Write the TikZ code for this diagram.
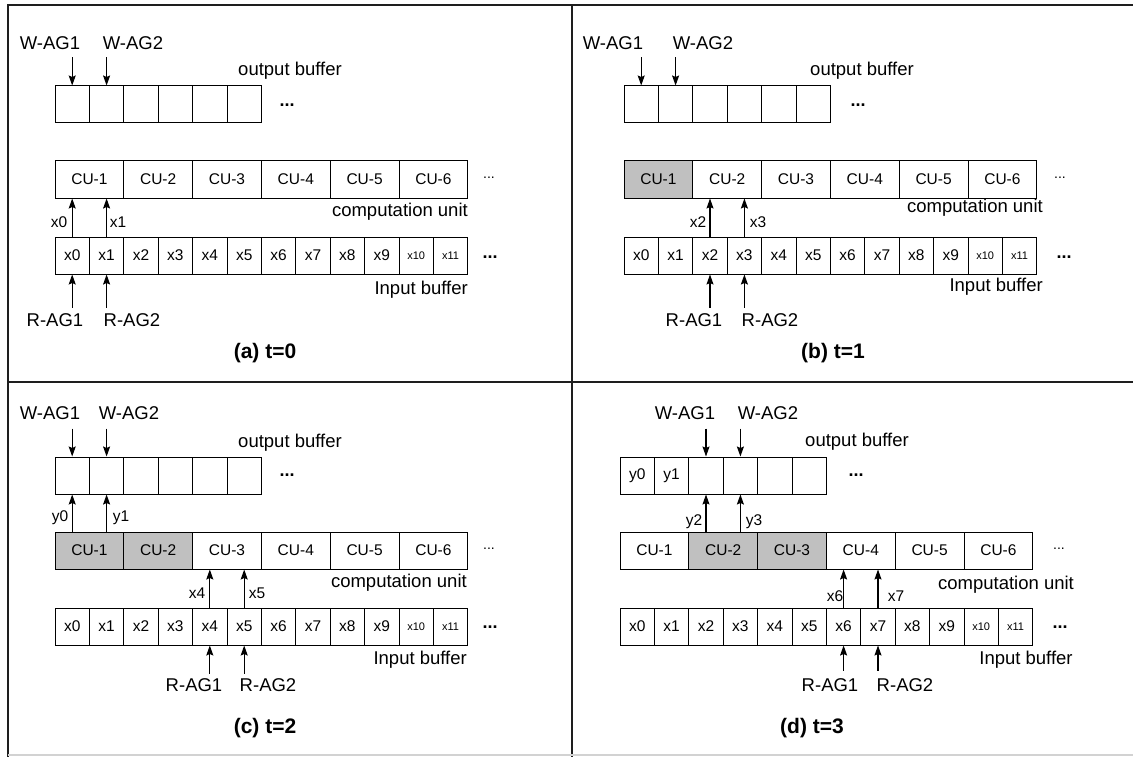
\documentclass[tikz,border=0pt]{standalone}
\usepackage{fontspec}
\setmainfont{Liberation Sans}
\usetikzlibrary{arrows.meta,backgrounds}
\definecolor{shadecol}{RGB}{192,192,192}
\definecolor{framecol}{RGB}{30,30,30}
\definecolor{lightline}{RGB}{210,210,210}
\tikzset{
  cell/.style={draw, line width=1pt, minimum width=34.4pt, minimum height=37pt, inner sep=0pt, font=\fontsize{15.5}{18}\selectfont},
  cucell/.style={cell, minimum width=68.8pt},
  tinytxt/.style={font=\fontsize{11}{13}\selectfont},
  lbl/.style={font=\fontsize{18.5}{21}\selectfont, inner sep=0pt},
  small/.style={font=\fontsize{15.5}{18}\selectfont, inner sep=0pt},
  ttl/.style={font=\fontsize{21}{25}\selectfont\bfseries, inner sep=0pt},
  arr/.style={line width=1.1pt, -{Stealth[length=10pt,width=7pt,inset=1.5pt]}},
  dotsb/.style={font=\fontsize{18}{21}\selectfont\bfseries, inner sep=0pt},
  cudots/.style={font=\fontsize{14}{16}\selectfont, inner sep=0pt},
  framel/.style={draw=framecol, line width=2pt},
}
\newcommand{\bufrows}[3]{%
  \foreach \i in {1,...,6}{\node[cell] (#1-o\i) at ({#2+(\i-0.5)*34.4},{#3+18.5}) {};}
  \foreach \i in {1,...,6}{\node[cucell] (#1-c\i) at ({#2+(\i-0.5)*68.8},{#3+93.5}) {CU-\i};}
  \foreach \i in {0,...,9}{\node[cell] (#1-i\i) at ({#2+(\i+0.5)*34.4},{#3+169.5}) {x\i};}
  \foreach \i in {10,11}{\node[cell,tinytxt] (#1-i\i) at ({#2+(\i+0.5)*34.4},{#3+169.5}) {x\i};}
}
\begin{document}
\begin{tikzpicture}[x=1pt,y=-1pt]
\useasboundingbox (0,0) rectangle (1133,757);
% frame
\draw[framel] (8,757) -- (8,5) -- (1133,5);
\draw[framel] (572,5) -- (572,757);
\draw[framel] (8,382) -- (1133,382);
\draw[draw=lightline, line width=1.5pt] (8,755) -- (1133,755);

% ---------- panel (a) ----------
\bufrows{a}{55}{86}
\node[lbl] (a-w1) at (50,43) {W-AG1};
\node[lbl] (a-w2) at (133,43) {W-AG2};
\draw[arr] ([yshift=28pt]a-o1.north) -- (a-o1.north);
\draw[arr] ([yshift=28pt]a-o2.north) -- (a-o2.north);
\node[lbl] (a-ob) at (290,71) {output buffer};
\node[dotsb] (a-od) at (287,105) {...};
\node[cudots] (a-cd) at (489,178) {...};
\node[dotsb] (a-id) at (490,257) {...};
\draw[arr] (a-i0.north) -- (a-i0.north |- a-c1.south);
\draw[arr] (a-i1.north) -- (a-i1.north |- a-c1.south);
\node[small] (a-l0) at (59,222) {x0};
\node[small] (a-l1) at (118,222) {x1};
\node[lbl, anchor=east] (a-cu) at (468,212) {computation unit};
\node[lbl, anchor=east] (a-ib) at (468,290) {Input buffer};
\draw[arr] ([yshift=-33pt]a-i0.south) -- (a-i0.south);
\draw[arr] ([yshift=-33pt]a-i1.south) -- (a-i1.south);
\node[lbl] (a-r1) at (55,320) {R-AG1};
\node[lbl] (a-r2) at (132,320) {R-AG2};
\node[ttl] (a-t) at (265,353) {(a) t=0};

% ---------- panel (b) ----------
\bufrows{b}{624}{86}
\begin{scope}[on background layer]
\fill[shadecol] (b-c1.south west) rectangle (b-c1.north east);
\end{scope}
\node[lbl] (b-w1) at (613,43) {W-AG1};
\node[lbl] (b-w2) at (703,43) {W-AG2};
\draw[arr] ([yshift=28pt]b-o1.north) -- (b-o1.north);
\draw[arr] ([yshift=28pt]b-o2.north) -- (b-o2.north);
\node[lbl] (b-ob) at (862,71) {output buffer};
\node[dotsb] (b-od) at (858,105) {...};
\node[cudots] (b-cd) at (1060,178) {...};
\node[dotsb] (b-id) at (1064,257) {...};
\draw[arr] (b-i2.north) -- (b-i2.north |- b-c1.south);
\draw[arr] (b-i3.north) -- (b-i3.north |- b-c1.south);
\node[small] (b-l0) at (698,222) {x2};
\node[small] (b-l1) at (758,222) {x3};
\node[lbl, anchor=east] (b-cu) at (1043,208) {computation unit};
\node[lbl, anchor=east] (b-ib) at (1043,287) {Input buffer};
\draw[arr] ([yshift=-33pt]b-i2.south) -- (b-i2.south);
\draw[arr] ([yshift=-33pt]b-i3.south) -- (b-i3.south);
\node[lbl] (b-r1) at (694,320) {R-AG1};
\node[lbl] (b-r2) at (770,320) {R-AG2};
\node[ttl] (b-t) at (833,353) {(b) t=1};

% ---------- panel (c) ----------
\bufrows{c}{55}{457}
\begin{scope}[on background layer]
\fill[shadecol] (c-c1.south west) rectangle (c-c2.north east);
\end{scope}
\node[lbl] (c-w1) at (50,413) {W-AG1};
\node[lbl] (c-w2) at (129,413) {W-AG2};
\draw[arr] ([yshift=28pt]c-o1.north) -- (c-o1.north);
\draw[arr] ([yshift=28pt]c-o2.north) -- (c-o2.north);
\node[lbl] (c-ob) at (290,443) {output buffer};
\node[dotsb] (c-od) at (287,475) {...};
\node[cudots] (c-cd) at (489,549) {...};
\node[dotsb] (c-id) at (490,627) {...};
\draw[arr] (c-o1.south |- c-c1.north) -- (c-o1.south);
\draw[arr] (c-o2.south |- c-c1.north) -- (c-o2.south);
\node[small] (c-y0) at (60,518) {y0};
\node[small] (c-y1) at (121,518) {y1};
\draw[arr] (c-i4.north) -- (c-i4.north |- c-c1.south);
\draw[arr] (c-i5.north) -- (c-i5.north |- c-c1.south);
\node[small] (c-l0) at (197,593) {x4};
\node[small] (c-l1) at (257,593) {x5};
\node[lbl, anchor=east] (c-cu) at (467,583) {computation unit};
\node[lbl, anchor=east] (c-ib) at (467,660) {Input buffer};
\draw[arr] ([yshift=-28pt]c-i4.south) -- (c-i4.south);
\draw[arr] ([yshift=-28pt]c-i5.south) -- (c-i5.south);
\node[lbl] (c-r1) at (194,685) {R-AG1};
\node[lbl] (c-r2) at (268,685) {R-AG2};
\node[ttl] (c-t) at (265,728) {(c) t=2};

% ---------- panel (d) ----------
\bufrows{d}{620}{457}
\begin{scope}[on background layer]
\fill[shadecol] (d-c2.south west) rectangle (d-c3.north east);
\end{scope}
\node[small] (d-v0) at (d-o1) {y0};
\node[small] (d-v1) at (d-o2) {y1};
\node[lbl] (d-w1) at (685,413) {W-AG1};
\node[lbl] (d-w2) at (768,413) {W-AG2};
\draw[arr] ([yshift=28pt]d-o3.north) -- (d-o3.north);
\draw[arr] ([yshift=28pt]d-o4.north) -- (d-o4.north);
\node[lbl] (d-ob) at (857,442) {output buffer};
\node[dotsb] (d-od) at (856,475) {...};
\node[cudots] (d-cd) at (1059,549) {...};
\node[dotsb] (d-id) at (1060,627) {...};
\draw[arr] (d-o3.south |- d-c1.north) -- (d-o3.south);
\draw[arr] (d-o4.south |- d-c1.north) -- (d-o4.south);
\node[small] (d-y2) at (694,522) {y2};
\node[small] (d-y3) at (754,522) {y3};
\draw[arr] (d-i6.north) -- (d-i6.north |- d-c1.south);
\draw[arr] (d-i7.north) -- (d-i7.north |- d-c1.south);
\node[small] (d-l0) at (835,596) {x6};
\node[small] (d-l1) at (896,596) {x7};
\node[lbl] (d-cu) at (1006,585) {computation unit};
\node[lbl] (d-ib) at (1026,660) {Input buffer};
\draw[arr] ([yshift=-25pt]d-i6.south) -- (d-i6.south);
\draw[arr] ([yshift=-25pt]d-i7.south) -- (d-i7.south);
\node[lbl] (d-r1) at (830,685) {R-AG1};
\node[lbl] (d-r2) at (905,685) {R-AG2};
\node[ttl] (d-t) at (812,728) {(d) t=3};
\end{tikzpicture}
\end{document}
